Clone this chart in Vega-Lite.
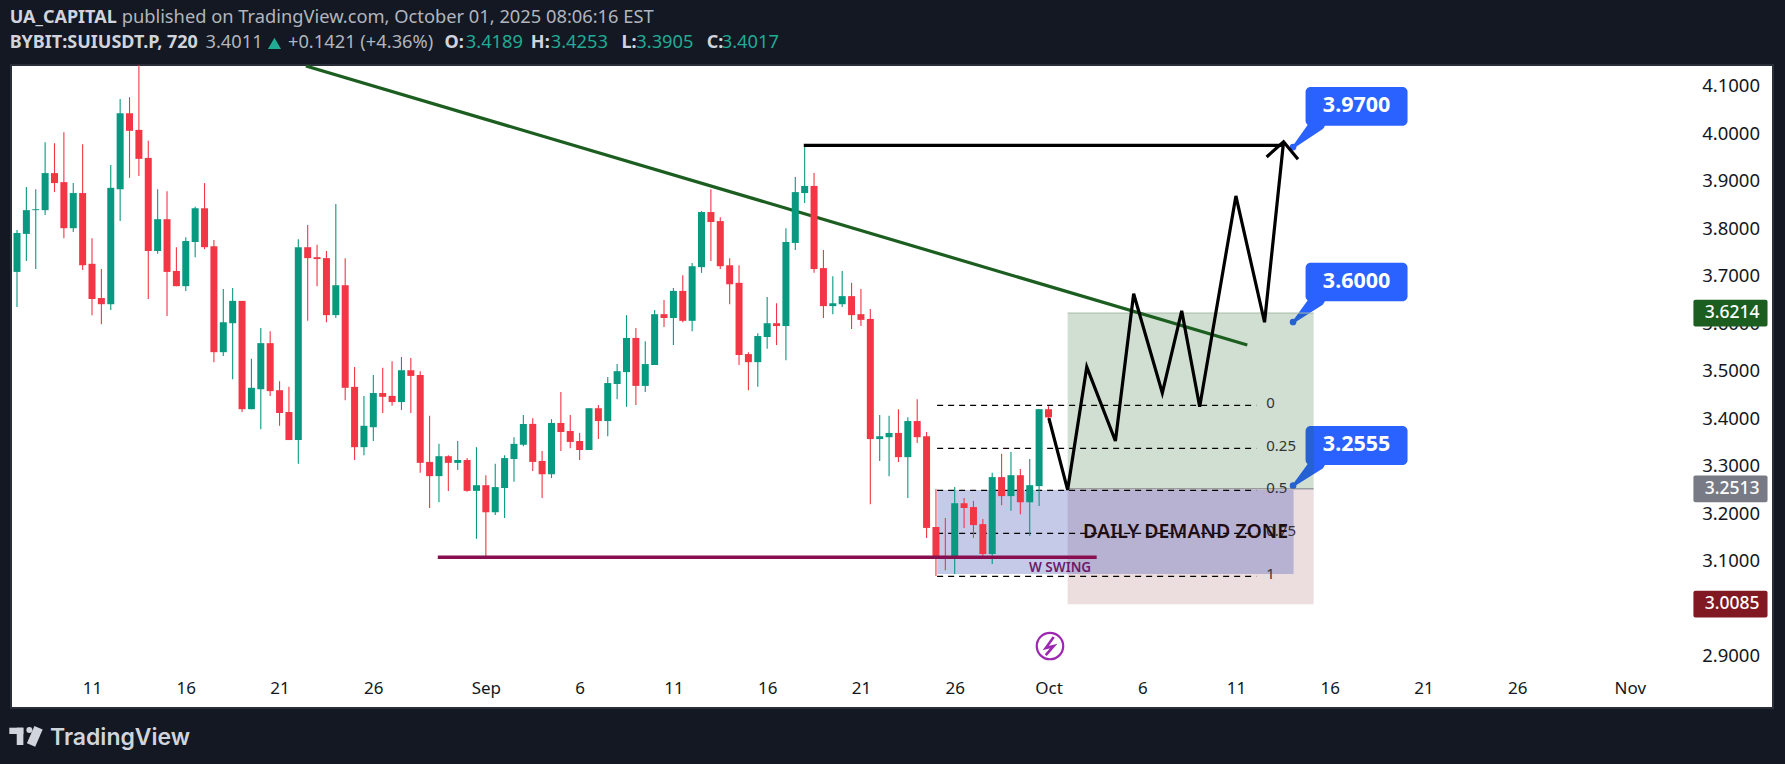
{"$schema":"https://vega.github.io/schema/vega-lite/v6.json","width":1762,"height":643,"autosize":{"type":"none"},"padding":{"left":11,"top":65,"right":12,"bottom":56},"background":"#131822",
"config":{"view":{"fill":"#ffffff","stroke":"#2a2e39","strokeWidth":2},"legend":{"disable":true},"font":"Noto Sans"},
"datasets":{
"candles":[
{"date":"2025-08-07T00:00","open":3.708,"high":3.796,"low":3.634,"close":3.790},
{"date":"2025-08-07T12:00","open":3.788,"high":3.887,"low":3.731,"close":3.838},
{"date":"2025-08-08T00:00","open":3.838,"high":3.882,"low":3.714,"close":3.840},
{"date":"2025-08-08T12:00","open":3.838,"high":3.981,"low":3.828,"close":3.916},
{"date":"2025-08-09T00:00","open":3.916,"high":3.979,"low":3.876,"close":3.895},
{"date":"2025-08-09T12:00","open":3.897,"high":4.002,"low":3.779,"close":3.800},
{"date":"2025-08-10T00:00","open":3.800,"high":3.895,"low":3.792,"close":3.874},
{"date":"2025-08-10T12:00","open":3.874,"high":3.977,"low":3.712,"close":3.722},
{"date":"2025-08-11T00:00","open":3.725,"high":3.779,"low":3.617,"close":3.651},
{"date":"2025-08-11T12:00","open":3.653,"high":3.714,"low":3.598,"close":3.640},
{"date":"2025-08-12T00:00","open":3.640,"high":3.933,"low":3.628,"close":3.885},
{"date":"2025-08-12T12:00","open":3.882,"high":4.072,"low":3.815,"close":4.042},
{"date":"2025-08-13T00:00","open":4.042,"high":4.076,"low":3.906,"close":4.005},
{"date":"2025-08-13T12:00","open":4.007,"high":4.160,"low":3.910,"close":3.946},
{"date":"2025-08-14T00:00","open":3.948,"high":3.984,"low":3.651,"close":3.752},
{"date":"2025-08-14T12:00","open":3.752,"high":3.882,"low":3.746,"close":3.819},
{"date":"2025-08-15T00:00","open":3.819,"high":3.878,"low":3.615,"close":3.708},
{"date":"2025-08-15T12:00","open":3.710,"high":3.760,"low":3.678,"close":3.678},
{"date":"2025-08-16T00:00","open":3.678,"high":3.781,"low":3.668,"close":3.773},
{"date":"2025-08-16T12:00","open":3.771,"high":3.845,"low":3.739,"close":3.842},
{"date":"2025-08-17T00:00","open":3.842,"high":3.895,"low":3.756,"close":3.760},
{"date":"2025-08-17T12:00","open":3.762,"high":3.775,"low":3.518,"close":3.539},
{"date":"2025-08-18T00:00","open":3.539,"high":3.672,"low":3.531,"close":3.602},
{"date":"2025-08-18T12:00","open":3.600,"high":3.674,"low":3.482,"close":3.647},
{"date":"2025-08-19T00:00","open":3.647,"high":3.647,"low":3.413,"close":3.419},
{"date":"2025-08-19T12:00","open":3.419,"high":3.525,"low":3.419,"close":3.464},
{"date":"2025-08-20T00:00","open":3.461,"high":3.590,"low":3.377,"close":3.558},
{"date":"2025-08-20T12:00","open":3.558,"high":3.583,"low":3.447,"close":3.457},
{"date":"2025-08-21T00:00","open":3.459,"high":3.478,"low":3.384,"close":3.411},
{"date":"2025-08-21T12:00","open":3.413,"high":3.466,"low":3.354,"close":3.354},
{"date":"2025-08-22T00:00","open":3.354,"high":3.777,"low":3.304,"close":3.760},
{"date":"2025-08-22T12:00","open":3.760,"high":3.807,"low":3.605,"close":3.737},
{"date":"2025-08-23T00:00","open":3.739,"high":3.765,"low":3.678,"close":3.735},
{"date":"2025-08-23T12:00","open":3.737,"high":3.752,"low":3.602,"close":3.617},
{"date":"2025-08-24T00:00","open":3.617,"high":3.851,"low":3.611,"close":3.680},
{"date":"2025-08-24T12:00","open":3.680,"high":3.737,"low":3.438,"close":3.464},
{"date":"2025-08-25T00:00","open":3.466,"high":3.508,"low":3.312,"close":3.339},
{"date":"2025-08-25T12:00","open":3.339,"high":3.447,"low":3.322,"close":3.384},
{"date":"2025-08-26T00:00","open":3.381,"high":3.491,"low":3.352,"close":3.453},
{"date":"2025-08-26T12:00","open":3.453,"high":3.506,"low":3.411,"close":3.445},
{"date":"2025-08-27T00:00","open":3.447,"high":3.520,"low":3.426,"close":3.434},
{"date":"2025-08-27T12:00","open":3.434,"high":3.529,"low":3.417,"close":3.501},
{"date":"2025-08-28T00:00","open":3.501,"high":3.527,"low":3.411,"close":3.489},
{"date":"2025-08-28T12:00","open":3.491,"high":3.499,"low":3.285,"close":3.306},
{"date":"2025-08-29T00:00","open":3.308,"high":3.405,"low":3.211,"close":3.278},
{"date":"2025-08-29T12:00","open":3.278,"high":3.346,"low":3.223,"close":3.320},
{"date":"2025-08-30T00:00","open":3.320,"high":3.322,"low":3.247,"close":3.306},
{"date":"2025-08-30T12:00","open":3.306,"high":3.352,"low":3.291,"close":3.312},
{"date":"2025-08-31T00:00","open":3.312,"high":3.316,"low":3.245,"close":3.247},
{"date":"2025-08-31T12:00","open":3.247,"high":3.339,"low":3.146,"close":3.259},
{"date":"2025-09-01T00:00","open":3.259,"high":3.280,"low":3.110,"close":3.202},
{"date":"2025-09-01T12:00","open":3.202,"high":3.304,"low":3.196,"close":3.255},
{"date":"2025-09-02T00:00","open":3.253,"high":3.322,"low":3.190,"close":3.316},
{"date":"2025-09-02T12:00","open":3.314,"high":3.360,"low":3.266,"close":3.346},
{"date":"2025-09-03T00:00","open":3.344,"high":3.407,"low":3.341,"close":3.388},
{"date":"2025-09-03T12:00","open":3.388,"high":3.400,"low":3.289,"close":3.308},
{"date":"2025-09-04T00:00","open":3.310,"high":3.331,"low":3.232,"close":3.282},
{"date":"2025-09-04T12:00","open":3.282,"high":3.398,"low":3.274,"close":3.390},
{"date":"2025-09-05T00:00","open":3.390,"high":3.455,"low":3.331,"close":3.371},
{"date":"2025-09-05T12:00","open":3.373,"high":3.407,"low":3.337,"close":3.350},
{"date":"2025-09-06T00:00","open":3.352,"high":3.369,"low":3.312,"close":3.333},
{"date":"2025-09-06T12:00","open":3.333,"high":3.421,"low":3.333,"close":3.421},
{"date":"2025-09-07T00:00","open":3.421,"high":3.428,"low":3.356,"close":3.394},
{"date":"2025-09-07T12:00","open":3.394,"high":3.487,"low":3.362,"close":3.474},
{"date":"2025-09-08T00:00","open":3.472,"high":3.514,"low":3.440,"close":3.499},
{"date":"2025-09-08T12:00","open":3.497,"high":3.617,"low":3.424,"close":3.569},
{"date":"2025-09-09T00:00","open":3.569,"high":3.590,"low":3.428,"close":3.468},
{"date":"2025-09-09T12:00","open":3.468,"high":3.562,"low":3.455,"close":3.514},
{"date":"2025-09-10T00:00","open":3.512,"high":3.628,"low":3.512,"close":3.619},
{"date":"2025-09-10T12:00","open":3.619,"high":3.649,"low":3.592,"close":3.611},
{"date":"2025-09-11T00:00","open":3.611,"high":3.674,"low":3.554,"close":3.668},
{"date":"2025-09-11T12:00","open":3.668,"high":3.701,"low":3.602,"close":3.605},
{"date":"2025-09-12T00:00","open":3.605,"high":3.727,"low":3.583,"close":3.720},
{"date":"2025-09-12T12:00","open":3.718,"high":3.836,"low":3.706,"close":3.834},
{"date":"2025-09-13T00:00","open":3.834,"high":3.882,"low":3.731,"close":3.813},
{"date":"2025-09-13T12:00","open":3.815,"high":3.823,"low":3.714,"close":3.720},
{"date":"2025-09-14T00:00","open":3.722,"high":3.737,"low":3.640,"close":3.682},
{"date":"2025-09-14T12:00","open":3.685,"high":3.722,"low":3.512,"close":3.533},
{"date":"2025-09-15T00:00","open":3.535,"high":3.539,"low":3.459,"close":3.518},
{"date":"2025-09-15T12:00","open":3.518,"high":3.579,"low":3.466,"close":3.573},
{"date":"2025-09-16T00:00","open":3.571,"high":3.655,"low":3.546,"close":3.600},
{"date":"2025-09-16T12:00","open":3.600,"high":3.642,"low":3.554,"close":3.594},
{"date":"2025-09-17T00:00","open":3.594,"high":3.800,"low":3.522,"close":3.771},
{"date":"2025-09-17T12:00","open":3.769,"high":3.908,"low":3.754,"close":3.876},
{"date":"2025-09-18T00:00","open":3.874,"high":3.975,"low":3.853,"close":3.889},
{"date":"2025-09-18T12:00","open":3.889,"high":3.916,"low":3.706,"close":3.714},
{"date":"2025-09-19T00:00","open":3.716,"high":3.754,"low":3.611,"close":3.636},
{"date":"2025-09-19T12:00","open":3.636,"high":3.699,"low":3.619,"close":3.642},
{"date":"2025-09-20T00:00","open":3.640,"high":3.710,"low":3.634,"close":3.657},
{"date":"2025-09-20T12:00","open":3.657,"high":3.685,"low":3.588,"close":3.617},
{"date":"2025-09-21T00:00","open":3.619,"high":3.672,"low":3.594,"close":3.607},
{"date":"2025-09-21T12:00","open":3.609,"high":3.630,"low":3.219,"close":3.356},
{"date":"2025-09-22T00:00","open":3.356,"high":3.407,"low":3.310,"close":3.362},
{"date":"2025-09-22T12:00","open":3.360,"high":3.405,"low":3.278,"close":3.369},
{"date":"2025-09-23T00:00","open":3.369,"high":3.419,"low":3.308,"close":3.318},
{"date":"2025-09-23T12:00","open":3.318,"high":3.402,"low":3.232,"close":3.394},
{"date":"2025-09-24T00:00","open":3.394,"high":3.440,"low":3.348,"close":3.360},
{"date":"2025-09-24T12:00","open":3.362,"high":3.371,"low":3.148,"close":3.169},
{"date":"2025-09-25T00:00","open":3.171,"high":3.251,"low":3.068,"close":3.108},
{"date":"2025-09-25T12:00","open":3.110,"high":3.190,"low":3.080,"close":3.108},
{"date":"2025-09-26T00:00","open":3.106,"high":3.255,"low":3.072,"close":3.221},
{"date":"2025-09-26T12:00","open":3.221,"high":3.232,"low":3.169,"close":3.211},
{"date":"2025-09-27T00:00","open":3.213,"high":3.226,"low":3.148,"close":3.175},
{"date":"2025-09-27T12:00","open":3.177,"high":3.188,"low":3.108,"close":3.114},
{"date":"2025-09-28T00:00","open":3.114,"high":3.285,"low":3.093,"close":3.276},
{"date":"2025-09-28T12:00","open":3.276,"high":3.325,"low":3.217,"close":3.236},
{"date":"2025-09-29T00:00","open":3.236,"high":3.329,"low":3.205,"close":3.280},
{"date":"2025-09-29T12:00","open":3.280,"high":3.293,"low":3.198,"close":3.223},
{"date":"2025-09-30T00:00","open":3.223,"high":3.314,"low":3.152,"close":3.259},
{"date":"2025-09-30T12:00","open":3.257,"high":3.419,"low":3.215,"close":3.419},
{"date":"2025-10-01T00:00","open":3.4189,"high":3.4253,"low":3.3905,"close":3.4017}
],
"zones":[
{"zone":"target","start":"2025-10-02T00:30","end":"2025-10-15T03:20","top":3.6214,"bottom":3.2513},
{"zone":"stop","start":"2025-10-02T00:30","end":"2025-10-15T03:20","top":3.2513,"bottom":3.0085},
{"zone":"demand","start":"2025-09-25T01:30","end":"2025-10-14T01:40","top":3.2488,"bottom":3.0720}
],
"edges":[
{"edge":"entry","start":"2025-10-02T00:30","end":"2025-10-15T03:20","price":3.2513},
{"edge":"targetEdge","start":"2025-10-02T00:30","end":"2025-10-15T03:20","price":3.6214}
],
"fib":[
{"level":"0","start":"2025-09-25T01:30","end":"2025-10-12T02:00","labelDate":"2025-10-12T14:40","price":3.4271},
{"level":"0.25","start":"2025-09-25T01:30","end":"2025-10-12T02:00","labelDate":"2025-10-12T14:40","price":3.3366},
{"level":"0.5","start":"2025-09-25T01:30","end":"2025-10-12T02:00","labelDate":"2025-10-12T14:40","price":3.2482},
{"level":"0.75","start":"2025-09-25T01:30","end":"2025-10-12T02:00","labelDate":"2025-10-12T14:40","price":3.1576},
{"level":"1","start":"2025-09-25T01:30","end":"2025-10-12T02:00","labelDate":"2025-10-12T14:40","price":3.0671}
],
"callouts":[
{"label":"3.9700","start":"2025-10-14T17:00","end":"2025-10-20T03:30","textDate":"2025-10-17T10:20","top":4.0972,"bottom":4.0158,"mid":4.0575,"dotDate":"2025-10-14T01:00","dot":3.9709},
{"label":"3.6000","start":"2025-10-14T17:00","end":"2025-10-20T03:30","textDate":"2025-10-17T10:20","top":3.7273,"bottom":3.6461,"mid":3.6877,"dotDate":"2025-10-14T01:00","dot":3.6025},
{"label":"3.2555","start":"2025-10-14T17:00","end":"2025-10-20T03:30","textDate":"2025-10-17T10:20","top":3.3835,"bottom":3.3014,"mid":3.3435,"dotDate":"2025-10-14T01:00","dot":3.2579}
],
"tails":[
{"callout":"a","date":"2025-10-15T08:24","price":4.0200,"taper":1},{"callout":"a","date":"2025-10-14T03:00","price":3.9735,"taper":0},
{"callout":"b","date":"2025-10-15T08:24","price":3.6503,"taper":1},{"callout":"b","date":"2025-10-14T03:00","price":3.6050,"taper":0},
{"callout":"c","date":"2025-10-15T08:24","price":3.3056,"taper":1},{"callout":"c","date":"2025-10-14T03:00","price":3.2605,"taper":0}
],
"trend":[{"date":"2025-08-22T09:43","price":4.1415},{"date":"2025-10-11T14:25","price":3.554}],
"swing":[{"date":"2025-08-29T10:30","price":3.1071},{"date":"2025-10-03T13:40","price":3.1071}],
"paths":[
{"series":"high","date":"2025-09-17T22:50","price":3.9745},{"series":"high","date":"2025-10-13T12:50","price":3.9745},
{"series":"zigzag","date":"2025-10-01T00:30","price":3.400},{"series":"zigzag","date":"2025-10-02T00:30","price":3.249},{"series":"zigzag","date":"2025-10-03T01:00","price":3.508},{"series":"zigzag","date":"2025-10-04T13:40","price":3.352},{"series":"zigzag","date":"2025-10-05T13:00","price":3.662},{"series":"zigzag","date":"2025-10-07T01:40","price":3.453},{"series":"zigzag","date":"2025-10-08T02:30","price":3.626},{"series":"zigzag","date":"2025-10-09T01:30","price":3.424},{"series":"zigzag","date":"2025-10-10T23:50","price":3.868},{"series":"zigzag","date":"2025-10-12T12:30","price":3.602},{"series":"zigzag","date":"2025-10-13T12:50","price":3.982},
{"series":"arrow","date":"2025-10-12T15:10","price":3.950},{"series":"arrow","date":"2025-10-13T12:50","price":3.982},{"series":"arrow","date":"2025-10-14T07:20","price":3.945}
],
"tags":[
{"label":"3.6214","kind":"target","price":3.6214,"top":3.6495,"bottom":3.5933,"start":"2025-11-04T09:20","end":"2025-11-08T08:10","textDate":"2025-11-07T21:50"},
{"label":"3.2513","kind":"entry","price":3.2513,"top":3.2794,"bottom":3.2232,"start":"2025-11-04T09:20","end":"2025-11-08T08:10","textDate":"2025-11-07T21:50"},
{"label":"3.0085","kind":"stop","price":3.0085,"top":3.0366,"bottom":2.9804,"start":"2025-11-04T09:20","end":"2025-11-08T08:10","textDate":"2025-11-07T21:50"}
],
"headerBold":[
{"label":"UA_CAPITAL","date":"2025-08-06T14:35","price":4.2425},
{"label":"BYBIT:SUIUSDT.P, 720","date":"2025-08-06T14:35","price":4.1892},
{"label":"O:","date":"2025-08-29T19:10","price":4.1892},
{"label":"H:","date":"2025-09-03T09:36","price":4.1892},
{"label":"L:","date":"2025-09-08T05:30","price":4.1892},
{"label":"C:","date":"2025-09-12T18:40","price":4.1892}
],
"headerPlain":[
{"label":"published on TradingView.com, October 01, 2025 08:06:16 EST","date":"2025-08-12T13:55","price":4.2425},
{"label":"3.4011","date":"2025-08-17T01:10","price":4.1892},
{"label":"+0.1421 (+4.36%)","date":"2025-08-21T10:45","price":4.1892}
],
"headerValues":[
{"label":"3.4189","date":"2025-08-30T22:20","price":4.1892},
{"label":"3.4253","date":"2025-09-04T11:00","price":4.1892},
{"label":"3.3905","date":"2025-09-09T00:30","price":4.1892},
{"label":"3.4017","date":"2025-09-13T13:50","price":4.1892}
],
"logoBars":[
{"start":"2025-08-06T14:10","end":"2025-08-07T08:10","top":2.7484,"bottom":2.7351},
{"start":"2025-08-06T23:40","end":"2025-08-07T08:10","top":2.7484,"bottom":2.7120}
],
"bolt":[{"date":"2025-10-01T06:40","price":2.9393},{"date":"2025-09-30T20:30","price":2.9162},{"date":"2025-10-01T06:40","price":2.9204},{"date":"2025-09-30T20:30","price":2.9014}]
},
"encoding":{
"x":{"field":"date","type":"temporal","title":null,"scale":{"nice":false,"padding":0,"domain":[{"year":2025,"month":"aug","date":6,"hours":16,"minutes":20},{"year":2025,"month":"nov","date":8,"hours":15,"minutes":10}]},
"axis":{"orient":"bottom","grid":false,"domain":false,"ticks":false,"labelPadding":-20,"labelBaseline":"middle","labelFont":"Noto Sans","labelFontSize":17,"labelColor":"#131722","labelOverlap":false,"labelFlush":false,"values":[{"year":2025,"month":"aug","date":11},{"year":2025,"month":"aug","date":16},{"year":2025,"month":"aug","date":21},{"year":2025,"month":"aug","date":26},{"year":2025,"month":"sep","date":1},{"year":2025,"month":"sep","date":6},{"year":2025,"month":"sep","date":11},{"year":2025,"month":"sep","date":16},{"year":2025,"month":"sep","date":21},{"year":2025,"month":"sep","date":26},{"year":2025,"month":"oct","date":1},{"year":2025,"month":"oct","date":6},{"year":2025,"month":"oct","date":11},{"year":2025,"month":"oct","date":16},{"year":2025,"month":"oct","date":21},{"year":2025,"month":"oct","date":26},{"year":2025,"month":"nov","date":1}],"labelExpr":"date(datum.value)==1?timeFormat(datum.value,'%b'):timeFormat(datum.value,'%-d')"}},
"y":{"field":"price","type":"quantitative","title":null,"scale":{"domain":[2.7899,4.1436],"zero":false,"nice":false},
"axis":{"orient":"right","grid":false,"domain":false,"ticks":false,"labelPadding":-13.5,"labelAlign":"right","labelBaseline":"middle","labelFont":"Noto Sans","labelFontSize":18.5,"labelColor":"#131722","labelOverlap":false,"labelFlush":false,"values":[2.9,3.0,3.1,3.2,3.3,3.4,3.5,3.6,3.7,3.8,3.9,4.0,4.1],"format":".4f"}}
},
"layer":[
{"data":{"name":"tails"},"mark":{"type":"trail","color":"#2962ff"},"encoding":{"detail":{"field":"callout"},"size":{"field":"taper","type":"quantitative","scale":{"domain":[0,1],"range":[3,15]}}}},
{"data":{"name":"callouts"},"mark":{"type":"rect","color":"#2962ff","cornerRadius":5},"encoding":{"x":{"field":"start","type":"temporal"},"x2":{"field":"end"},"y":{"field":"top","type":"quantitative"},"y2":{"field":"bottom"}}},
{"data":{"name":"callouts"},"mark":{"type":"point","filled":true,"opacity":1,"size":45,"color":"#2962ff"},"encoding":{"x":{"field":"dotDate","type":"temporal"},"y":{"field":"dot","type":"quantitative"}}},
{"data":{"name":"callouts"},"mark":{"type":"text","color":"#ffffff","fontWeight":"bold","fontSize":21.5,"align":"center","baseline":"middle","font":"Noto Sans"},"encoding":{"x":{"field":"textDate","type":"temporal"},"y":{"field":"mid","type":"quantitative"},"text":{"field":"label"}}},
{"data":{"name":"zones"},"mark":{"type":"rect"},"encoding":{"x":{"field":"start","type":"temporal"},"x2":{"field":"end"},"y":{"field":"top","type":"quantitative"},"y2":{"field":"bottom"},"color":{"field":"zone","type":"nominal","scale":{"domain":["target","stop","demand","entry","targetEdge"],"range":["#1b5e20","#801922","#3f51b5","#787b86","#a8baa9"]}},"opacity":{"field":"zone","type":"nominal","scale":{"type":"ordinal","domain":["target","stop","demand"],"range":[0.2,0.15,0.3]}}}},
{"data":{"name":"edges"},"mark":{"type":"rule","strokeWidth":1},"encoding":{"x":{"field":"start","type":"temporal"},"x2":{"field":"end"},"color":{"field":"edge","type":"nominal"}}},
{"data":{"name":"fib"},"mark":{"type":"rule","color":"#000000","strokeWidth":1.2,"strokeDash":[6,5]},"encoding":{"x":{"field":"start","type":"temporal"},"x2":{"field":"end"}}},
{"data":{"name":"fib"},"mark":{"type":"text","color":"#333333","fontSize":15,"align":"left","baseline":"middle","dy":-2,"font":"Noto Sans"},"encoding":{"x":{"field":"labelDate","type":"temporal"},"text":{"field":"level"}}},
{"data":{"name":"trend"},"mark":{"type":"line","color":"#1b5e20","strokeWidth":3.2,"clip":true}},
{"data":{"name":"candles"},"mark":{"type":"rule","strokeWidth":1.1,"clip":true},"encoding":{"y":{"field":"low","type":"quantitative"},"y2":{"field":"high"},"color":{"condition":{"test":"datum.close>=datum.open","value":"#089981"},"value":"#f23645"}}},
{"data":{"name":"candles"},"mark":{"type":"bar","size":7},"encoding":{"y":{"field":"open","type":"quantitative"},"y2":{"field":"close"},"color":{"condition":{"test":"datum.close>=datum.open","value":"#089981"},"value":"#f23645"}}},
{"data":{"name":"swing"},"mark":{"type":"line","color":"#880e4f","strokeWidth":3.5}},
{"data":{"name":"paths"},"mark":{"type":"line","color":"#000000","strokeWidth":3.2,"strokeJoin":"miter"},"encoding":{"detail":{"field":"series"}}},
{"data":{"values":[{"label":"DAILY DEMAND ZONE","date":"2025-10-08T07:30","price":3.1610}]},"mark":{"type":"text","color":"#1f0f14","fontSize":19.5,"fontWeight":600,"align":"center","baseline":"middle","font":"Noto Sans"},"encoding":{"text":{"field":"label"}}},
{"data":{"values":[{"label":"W SWING","date":"2025-10-01T14:50","price":3.0846}]},"mark":{"type":"text","color":"#6f1a6a","fontSize":13.5,"fontWeight":600,"align":"center","baseline":"middle","font":"Noto Sans"},"encoding":{"text":{"field":"label"}}},
{"data":{"name":"tags"},"mark":{"type":"rect","cornerRadius":2},"encoding":{"x":{"field":"start","type":"temporal"},"x2":{"field":"end"},"y":{"field":"top","type":"quantitative"},"y2":{"field":"bottom"},"color":{"field":"kind","type":"nominal"}}},
{"data":{"name":"tags"},"mark":{"type":"text","color":"#ffffff","fontSize":17.5,"fontWeight":500,"align":"right","baseline":"middle","font":"Noto Sans"},"encoding":{"x":{"field":"textDate","type":"temporal"},"text":{"field":"label"}}},
{"data":{"name":"headerBold"},"mark":{"type":"text","color":"#d1d4dc","fontSize":18,"fontWeight":"bold","align":"left","baseline":"middle","font":"Noto Sans"},"encoding":{"text":{"field":"label"}}},
{"data":{"name":"headerPlain"},"mark":{"type":"text","color":"#b2b5be","fontSize":18.3,"align":"left","baseline":"middle","font":"Noto Sans"},"encoding":{"text":{"field":"label"}}},
{"data":{"name":"headerValues"},"mark":{"type":"text","color":"#22ab94","fontSize":18.3,"align":"left","baseline":"middle","font":"Noto Sans"},"encoding":{"text":{"field":"label"}}},
{"data":{"values":[{"date":"2025-08-20T17:30","price":4.1892}]},"mark":{"type":"point","shape":"triangle-up","filled":true,"opacity":1,"size":170,"color":"#22ab94"}},
{"data":{"name":"logoBars"},"mark":{"type":"rect","color":"#d1d4dc"},"encoding":{"x":{"field":"start","type":"temporal"},"x2":{"field":"end"},"y":{"field":"top","type":"quantitative"},"y2":{"field":"bottom"}}},
{"data":{"values":[{"date":"2025-08-07T15:50","price":2.7436}]},"mark":{"type":"point","shape":"circle","filled":true,"opacity":1,"size":36,"color":"#d1d4dc"}},
{"data":{"values":[{"date":"2025-08-08T03:35","price":2.7484},{"date":"2025-08-07T18:00","price":2.7120}]},"mark":{"type":"line","color":"#d1d4dc","strokeWidth":9,"strokeCap":"butt"}},
{"data":{"values":[{"label":"TradingView","date":"2025-08-08T18:15","price":2.7267}]},"mark":{"type":"text","color":"#d1d4dc","fontSize":23,"fontWeight":600,"align":"left","baseline":"middle","font":"Inter"},"encoding":{"text":{"field":"label"}}},
{"data":{"values":[{"date":"2025-10-01T01:55","price":2.9204}]},"mark":{"type":"point","shape":"circle","filled":false,"opacity":1,"size":700,"strokeWidth":2.2,"color":"#9c27b0"}},
{"data":{"name":"bolt"},"mark":{"type":"line","color":"#9c27b0","strokeWidth":2.6,"interpolate":"linear","order":false}}
]}
